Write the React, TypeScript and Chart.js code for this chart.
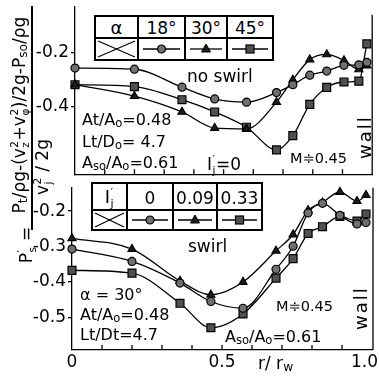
import React, { useEffect, useRef } from 'react';
import { Chart, registerables } from 'chart.js';

Chart.register(...registerables);

const FONT = 'DejaVu Sans';

// ---------------- data ----------------
// upper panel: no swirl, parameter alpha
const topR = [0, 0.2, 0.36, 0.47, 0.577, 0.678, 0.733, 0.79, 0.847, 0.905, 0.955, 0.982];
const topAlpha18 = [-0.257, -0.261, -0.327, -0.37, -0.382, -0.347, -0.318, -0.283, -0.268, -0.247, -0.245, -0.236];
const topAlpha30 = [-0.318, -0.36, -0.418, -0.477, -0.48, -0.382, -0.3, -0.226, -0.207, -0.229, -0.262, -0.248];
const topAlpha45 = [-0.318, -0.325, -0.373, -0.418, -0.474, -0.557, -0.505, -0.39, -0.328, -0.308, -0.305, -0.168];
const topLegendLabels = ['18°', '30°', '45°'];
const topYTicks = [-0.2, -0.4];

// lower panel: swirl, parameter I'j
const botR = [0, 0.2, 0.36, 0.463, 0.57, 0.68, 0.737, 0.787, 0.835, 0.893, 0.95, 0.98];
const botIj0 = [-0.307, -0.342, -0.403, -0.455, -0.474, -0.364, -0.299, -0.205, -0.178, -0.212, -0.236, -0.232];
const botIj009 = [-0.277, -0.307, -0.397, -0.436, -0.4, -0.312, -0.266, -0.198, -0.176, -0.146, -0.172, -0.155];
const botIj033 = [-0.367, -0.375, -0.46, -0.529, -0.49, -0.389, -0.334, -0.263, -0.244, -0.215, -0.228, -0.208];
const botLegendLabels = ['0', '0.09', '0.33'];
const botYTicks = [-0.2, -0.3, -0.4, -0.5];

const xMinorTicks = [0.1, 0.2, 0.3, 0.4, 0.5, 0.6, 0.7, 0.8, 0.9];
const xLabelValues = [0, 0.5, 1];
const xLabelTexts = ['0', '0.5', '1.0'];

// ---------------- styles ----------------
const markerStyles: any[] = [
  { pointStyle: 'circle', pointRadius: 4, pointBackgroundColor: '#707070' },
  { pointStyle: 'triangle', pointRadius: 4.6, pointBackgroundColor: '#1c1c1c' },
  { pointStyle: 'rect', pointRadius: 5.6, pointBackgroundColor: '#505050' },
];

const decorPlugin = {
  id: 'decor',
  afterDraw(chart: any, _args: any, opts: any) {
    const { ctx, chartArea, scales } = chart;
    const xs = scales.x;
    ctx.save();
    ctx.strokeStyle = '#000';
    ctx.lineWidth = 1.3;
    for (const v of xMinorTicks) {
      const px = xs.getPixelForValue(v);
      ctx.beginPath();
      ctx.moveTo(px, chartArea.bottom);
      ctx.lineTo(px, chartArea.bottom - 5);
      ctx.stroke();
    }
    const wx = xs.getPixelForValue(1) + (opts.wallDx || 0);
    ctx.beginPath();
    ctx.moveTo(wx, chartArea.top + (opts.wallTop || 0));
    ctx.lineTo(wx, chartArea.bottom);
    ctx.stroke();
    if (opts.labels) {
      ctx.font = `17px "${FONT}"`;
      ctx.fillStyle = '#000';
      ctx.textAlign = 'center';
      ctx.textBaseline = 'middle';
      xLabelValues.forEach((v, i) => {
        const t = xLabelTexts[i];
        const w = ctx.measureText(t).width;
        let px = xs.getPixelForValue(v);
        px = Math.min(px, chart.width - w / 2 - 1);
        ctx.fillText(t, px, opts.labelY);
      });
    }
    ctx.restore();
  },
};

function buildConfig(
  r: number[],
  series: number[][],
  yMin: number,
  yMax: number,
  yTicks: number[],
  yAxisWidth: number,
  xAxisHeight: number,
  padTop: number,
  padRight: number,
  decor: any
): any {
  return {
    type: 'line',
    data: {
      datasets: series.map((vals, i) => ({
        data: r.map((x, k) => ({ x, y: vals[k] })),
        ...markerStyles[i],
        borderColor: '#000',
        borderWidth: 1.3,
        pointBorderColor: '#000',
        pointBorderWidth: 1.2,
        cubicInterpolationMode: 'monotone',
        fill: false,
        clip: false,
      })),
    },
    options: {
      responsive: false,
      animation: false,
      devicePixelRatio: 1,
      layout: { padding: { top: padTop, right: padRight, left: 0, bottom: 0 } },
      plugins: { legend: { display: false }, tooltip: { enabled: false }, decor },
      scales: {
        x: {
          type: 'linear',
          min: 0,
          max: 1,
          ticks: { display: false },
          grid: { drawOnChartArea: false, drawTicks: false },
          border: { display: true, color: '#000', width: 1.3 },
          afterFit: (s: any) => {
            s.height = xAxisHeight;
            s.paddingLeft = 0;
            s.paddingRight = 0;
          },
        },
        y: {
          type: 'linear',
          min: yMin,
          max: yMax,
          afterBuildTicks: (s: any) => {
            s.ticks = yTicks.map((v) => ({ value: v }));
          },
          ticks: {
            color: '#000',
            padding: 2,
            font: { family: FONT, size: 17 },
            callback: (v: any) => Number(v).toFixed(1),
          },
          grid: { drawOnChartArea: false, drawTicks: true, tickLength: 4, color: '#000', lineWidth: 1.3 },
          border: { display: true, color: '#000', width: 1.3 },
          afterFit: (s: any) => {
            s.width = yAxisWidth;
            s.paddingTop = 0;
            s.paddingBottom = 0;
          },
        },
      },
    },
    plugins: [decorPlugin],
  };
}

// ---------------- html helpers ----------------
const Sub = ({ children }: any) => (
  <span style={{ fontSize: '0.72em', verticalAlign: '-0.18em' }}>{children}</span>
);

const SS = ({ sub, sup }: any) => (
  <span
    style={{
      display: 'inline-flex',
      flexDirection: 'column',
      fontSize: '0.62em',
      lineHeight: 1,
      verticalAlign: 'middle',
      margin: '0 0.05em',
    }}
  >
    <span>{sup}</span>
    <span>{sub}</span>
  </span>
);

function Txt({ x, y, size = 16, children, rotate, center }: any) {
  const tf = rotate
    ? `translate(-50%,-50%) rotate(${rotate}deg)`
    : center
    ? 'translate(-50%,-50%)'
    : 'translate(0,-50%)';
  return (
    <div
      style={{
        position: 'absolute',
        left: x,
        top: y,
        fontSize: size,
        lineHeight: 1,
        whiteSpace: 'nowrap',
        transform: tf,
      }}
    >
      {children}
    </div>
  );
}

function Marker({ kind }: { kind: number }) {
  if (kind === 0) return <circle cx={0} cy={0} r={4} fill="#707070" stroke="#000" strokeWidth={1.2} />;
  if (kind === 1) return <polygon points="0,-5 4.5,3 -4.5,3" fill="#1c1c1c" stroke="#000" strokeWidth={1} />;
  return <rect x={-4} y={-4} width={8} height={8} fill="#505050" stroke="#000" strokeWidth={1.2} />;
}

function LegendTable({ xs, ys, head, labels, size }: any) {
  const els: any[] = [];
  els.push(
    <div
      key="bg"
      style={{ position: 'absolute', left: xs[0], top: ys[0], width: xs[4] - xs[0], height: ys[2] - ys[0], background: '#fff' }}
    />
  );
  xs.forEach((x: number, i: number) =>
    els.push(
      <div
        key={'v' + i}
        style={{ position: 'absolute', left: x - 0.7, top: ys[0] - 0.7, width: 1.4, height: ys[2] - ys[0] + 1.4, background: '#000' }}
      />
    )
  );
  ys.forEach((y: number, i: number) =>
    els.push(
      <div
        key={'h' + i}
        style={{ position: 'absolute', left: xs[0] - 0.7, top: y - 0.7, width: xs[4] - xs[0] + 1.4, height: 1.4, background: '#000' }}
      />
    )
  );
  const hy = (ys[0] + ys[1]) / 2;
  els.push(
    <Txt key="hd" x={(xs[0] + xs[1]) / 2} y={hy + 1} size={size + 1} center>
      {head}
    </Txt>
  );
  labels.forEach((t: string, i: number) =>
    els.push(
      <Txt key={'l' + i} x={(xs[i + 1] + xs[i + 2]) / 2} y={hy + 1} size={size} center>
        {t}
      </Txt>
    )
  );
  const w0 = xs[1] - xs[0];
  const h1 = ys[2] - ys[1];
  els.push(
    <svg key="x" style={{ position: 'absolute', left: xs[0], top: ys[1] }} width={w0} height={h1}>
      <line x1={3} y1={3} x2={w0 - 3} y2={h1 - 3} stroke="#000" strokeWidth={1.2} />
      <line x1={3} y1={h1 - 3} x2={w0 - 3} y2={3} stroke="#000" strokeWidth={1.2} />
    </svg>
  );
  [0, 1, 2].forEach((k) => {
    const w = xs[k + 2] - xs[k + 1];
    els.push(
      <svg key={'m' + k} style={{ position: 'absolute', left: xs[k + 1], top: ys[1] }} width={w} height={h1}>
        <line x1={5} y1={h1 / 2} x2={w - 5} y2={h1 / 2} stroke="#000" strokeWidth={1.3} />
        <g transform={`translate(${w / 2},${h1 / 2})`}>
          <Marker kind={k} />
        </g>
      </svg>
    );
  });
  return <>{els}</>;
}

export default function App() {
  const topRef = useRef<HTMLCanvasElement>(null);
  const botRef = useRef<HTMLCanvasElement>(null);

  useEffect(() => {
    document.body.style.margin = '0';
    Chart.defaults.font.family = FONT;
    Chart.defaults.color = '#000';
    const top = new Chart(
      topRef.current as HTMLCanvasElement,
      buildConfig(topR, [topAlpha18, topAlpha30, topAlpha45], -0.6464, -0.0321, topYTicks, 75, 4, 5, 5, {
        wallTop: 8,
        wallDx: 0,
        labels: false,
      })
    );
    const bot = new Chart(
      botRef.current as HTMLCanvasElement,
      buildConfig(botR, [botIj0, botIj009, botIj033], -0.5918, -0.1342, botYTicks, 72, 29, 2, 7, {
        wallTop: 0,
        wallDx: 1,
        labels: true,
        labelY: 182,
      })
    );
    return () => {
      top.destroy();
      bot.destroy();
    };
  }, []);

  const Ij = (
    <span>
      I<SS sup="′" sub="j" />
    </span>
  );

  return (
    <div
      style={{
        position: 'relative',
        width: 379,
        height: 379,
        background: '#fff',
        fontFamily: `"${FONT}", sans-serif`,
        color: '#000',
        overflow: 'hidden',
      }}
    >
      <canvas ref={topRef} width={379} height={181} style={{ position: 'absolute', left: 0, top: 0 }} />
      <canvas ref={botRef} width={379} height={198} style={{ position: 'absolute', left: 0, top: 181 }} />

      {/* y-axis title */}
      <Txt x={20} y={115} size={17} rotate={-90}>
        P<Sub>t</Sub>/ρg-(v<SS sup="2" sub="z" />+v<SS sup="2" sub="φ" />)/2g-P<Sub>so</Sub>/ρg
      </Txt>
      <div style={{ position: 'absolute', left: 31.4, top: 6, width: 1.3, height: 224, background: '#000' }} />
      <Txt x={43} y={167} size={17} rotate={-90}>
        v<SS sup="2" sub="j" /> / 2g
      </Txt>
      <Txt x={27} y={245} size={17} rotate={-90}>
        P<SS sup="′" sub="s" /> =
      </Txt>

      {/* upper panel annotations */}
      <LegendTable xs={[95, 138, 185, 227, 273]} ys={[16, 38, 60]} head="α" labels={topLegendLabels} size={17} />
      <Txt x={187} y={76} size={17}>
        no swirl
      </Txt>
      <Txt x={82} y={121} size={16}>
        At/A<Sub>o</Sub>=0.48
      </Txt>
      <Txt x={82} y={143} size={16}>
        Lt/D<Sub>o</Sub>= 4.7
      </Txt>
      <Txt x={82} y={164} size={16}>
        A<Sub>so</Sub>/A<Sub>o</Sub>=0.61
      </Txt>
      <Txt x={207} y={165} size={17}>
        {Ij}=0
      </Txt>
      <Txt x={290} y={158} size={14.5}>
        M≑0.45
      </Txt>
      <Txt x={365} y={137} size={18} rotate={-90}>
        <span style={{ letterSpacing: 2 }}>wall</span>
      </Txt>

      {/* lower panel annotations */}
      <LegendTable xs={[92, 127, 173, 217, 262]} ys={[183, 210, 230]} head={Ij} labels={botLegendLabels} size={17} />
      <Txt x={188} y={246} size={17}>
        swirl
      </Txt>
      <Txt x={80} y={295} size={16}>
        α = 30°
      </Txt>
      <Txt x={80} y={316} size={16}>
        At/A<Sub>o</Sub>=0.48
      </Txt>
      <Txt x={80} y={335} size={16}>
        Lt/Dt=4.7
      </Txt>
      <Txt x={276} y={306} size={14.5}>
        M≑0.45
      </Txt>
      <Txt x={225} y={338} size={16}>
        A<Sub>so</Sub>/A<Sub>o</Sub>=0.61
      </Txt>
      <Txt x={361} y={308} size={18} rotate={-90}>
        <span style={{ letterSpacing: 2 }}>wall</span>
      </Txt>
      <Txt x={258} y={364} size={17}>
        r/ r<Sub>w</Sub>
      </Txt>
    </div>
  );
}
